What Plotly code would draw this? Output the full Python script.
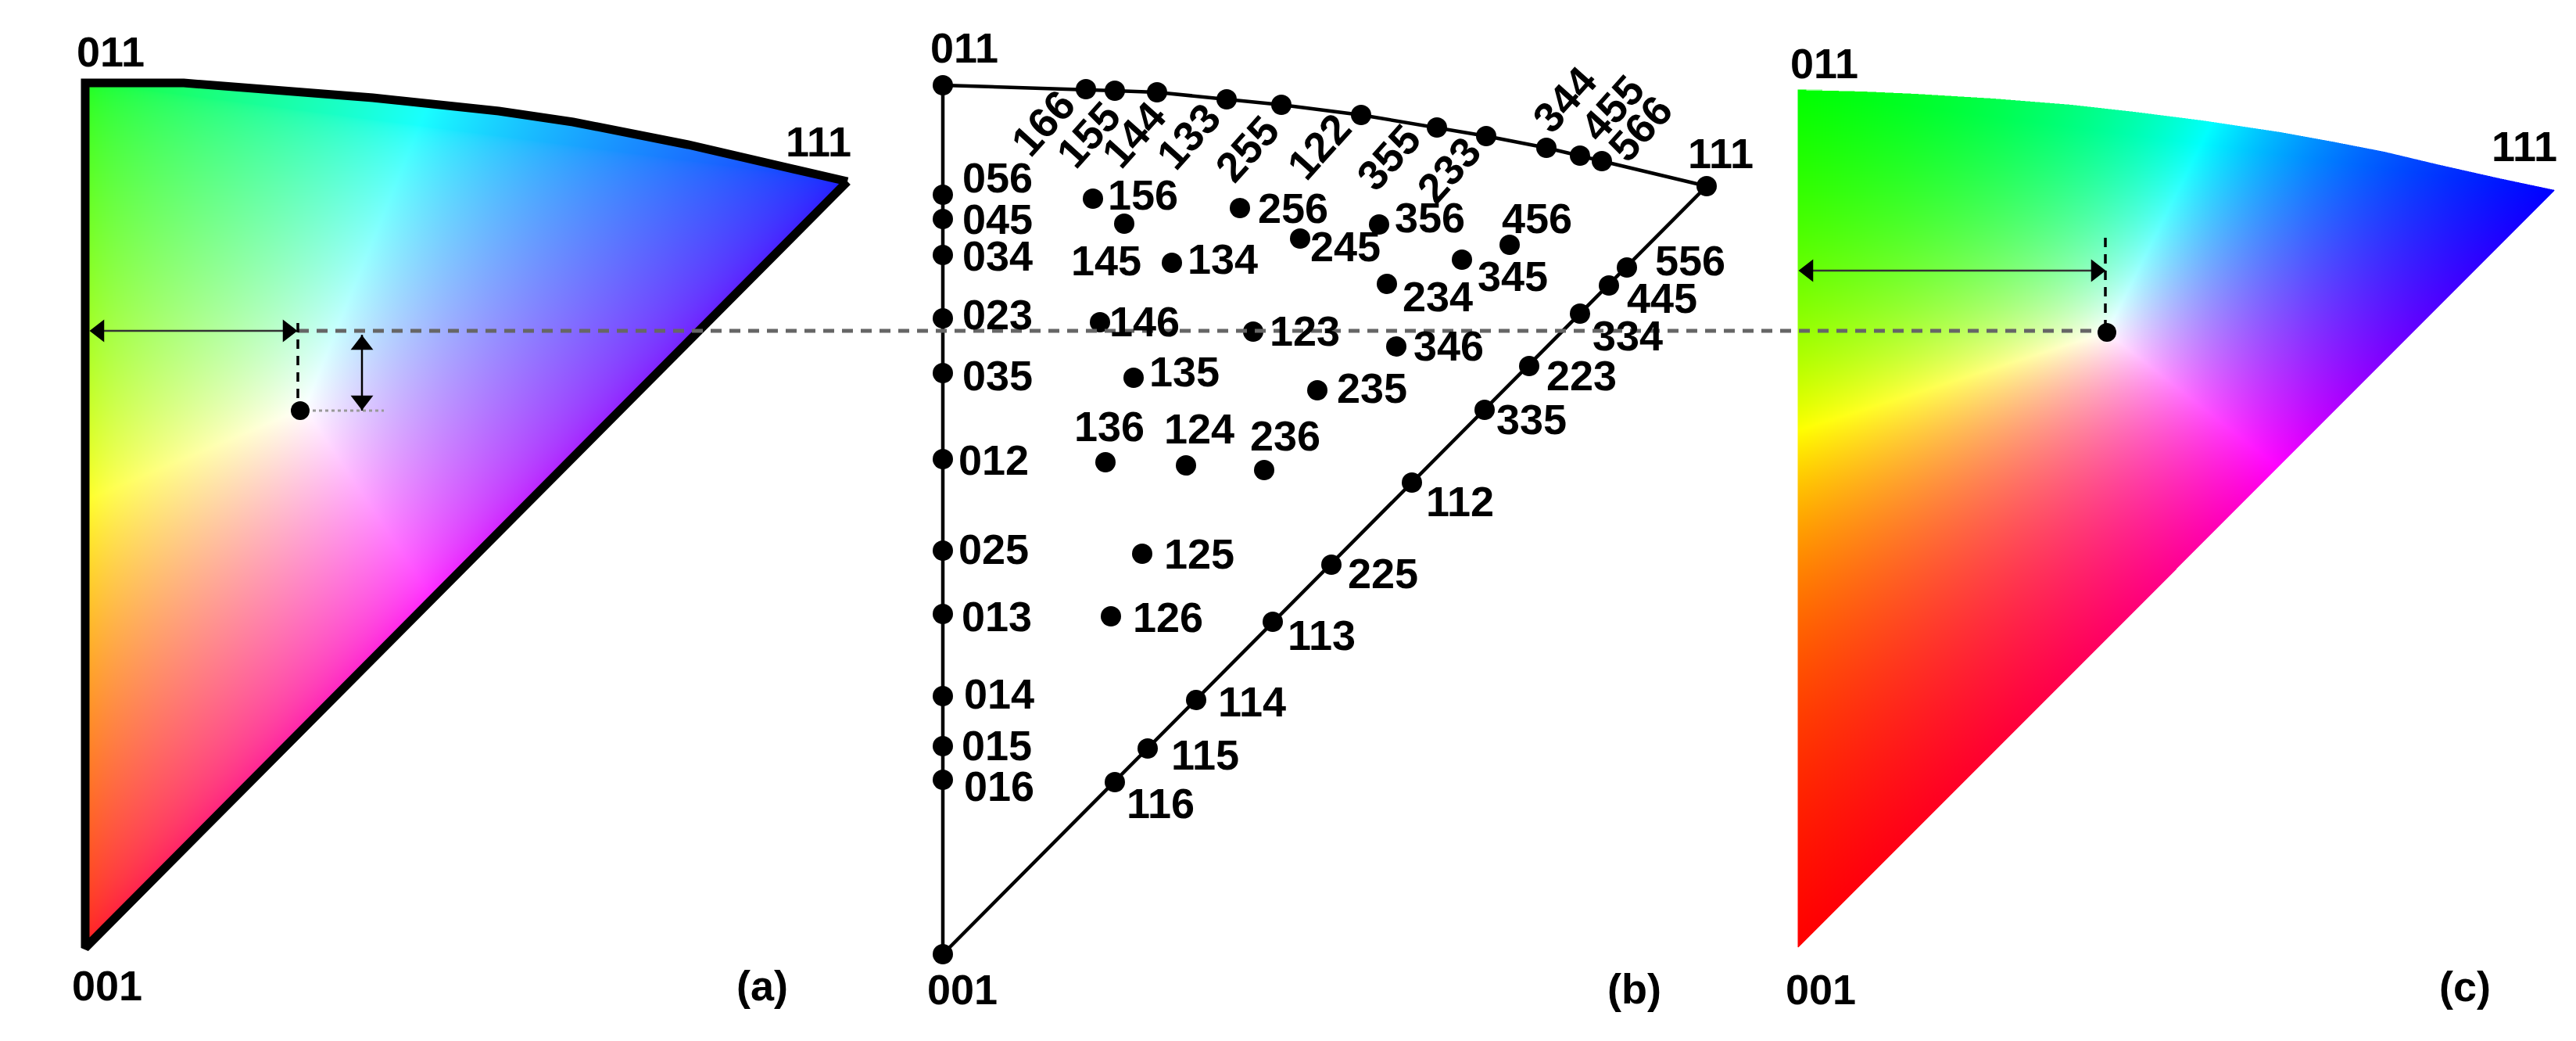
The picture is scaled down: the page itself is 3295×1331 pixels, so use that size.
import base64
import struct
import zlib

import numpy as np
import plotly.graph_objects as go

# everything is in picture pixels, y going down
W, H = 3295, 1331

# panel (a) and (c) colour keys: corners 001, 011, 111 and the white point
a_corner_x = [109, 109, 1084]
a_corner_y = [1212, 105, 232]
a_white = (390, 522)
a_floor = 25  # (a) is a washed out copy, its pure colours stop around 25
a_gamma = 0.6
a_arc_x = [109, 170, 235, 337, 477, 638, 733, 880, 1084]
a_arc_y = [106, 106, 106, 114, 125, 142, 156, 185, 232]

c_corner_x = [2300, 2300, 3268]
c_corner_y = [1212, 115, 243]
c_white = (2695, 425)
c_floor = 0
c_gamma = 1.0
c_arc_x = [2300, 2383, 2450, 2550, 2650, 2730, 2817, 2917, 2983, 3050, 3117, 3197, 3268]
c_arc_y = [115, 117, 120, 126, 134, 143, 154, 169, 181, 194, 210, 228, 243]

# panel (b) poles
edge_left = ["011", "056", "045", "034", "023", "035", "012", "025", "013", "014", "015", "016", "001"]
edge_left_y = [109, 249, 280, 326, 407, 477, 587, 704, 785, 890, 954, 997, 1220]
edge_left_x = [1206] * len(edge_left)
edge_left_label_x = [1233, 1276, 1276, 1276, 1276, 1276, 1271, 1271, 1275, 1278, 1275, 1278, 1231]
edge_left_label_y = [61, 227, 280, 327, 402, 480, 588, 702, 788, 887, 953, 1005, 1265]

arc_poles = ["166", "155", "144", "133", "255", "122", "355", "233", "344", "455", "566"]
arc_x = [1389, 1426, 1480, 1569, 1639, 1741, 1838, 1901, 1978, 2021, 2049]
arc_y = [114, 116, 118, 127, 134, 147, 163, 174, 189, 199, 206]
arc_label_x = [1334, 1392, 1450, 1520, 1595, 1687, 1776, 1853, 2001, 2062, 2098]
arc_label_y = [157, 172, 172, 174, 190, 187, 201, 217, 127, 138, 164]

edge_right = ["111", "556", "445", "334", "223", "335", "112", "225", "113", "114", "115", "116"]
edge_right_x = [2183, 2081, 2058, 2021, 1956, 1899, 1806, 1703, 1628, 1530, 1468, 1426]
edge_right_y = [238, 342, 365, 401, 468, 524, 617, 722, 795, 895, 957, 1000]
edge_right_label_x = [2201, 2162, 2126, 2082, 2023, 1959, 1867, 1769, 1690, 1601, 1541, 1484]
edge_right_label_y = [196, 333, 381, 429, 480, 536, 641, 733, 812, 897, 965, 1027]

inner = ["156", "145", "134", "256", "245", "356", "456", "345", "234", "146", "123", "346",
         "135", "235", "136", "124", "236", "125", "126"]
inner_x = [1398, 1438, 1499, 1586, 1663, 1764, 1931, 1870, 1774, 1407, 1603, 1786,
           1450, 1685, 1414, 1517, 1617, 1461, 1421]
inner_y = [254, 286, 336, 266, 305, 287, 313, 332, 363, 412, 424, 443,
           483, 499, 591, 595, 601, 708, 788]
inner_label_x = [1462, 1415, 1564, 1654, 1721, 1829, 1966, 1935, 1839, 1464, 1669, 1853,
                 1515, 1755, 1419, 1534, 1644, 1534, 1494]
inner_label_y = [249, 333, 331, 266, 315, 278, 279, 353, 379, 411, 423, 442,
                 475, 496, 545, 548, 557, 708, 789]

# corner and panel letters of (a) and (c)
plain_text = ["011", "111", "001", "(a)", "(b)", "011", "111", "001", "(c)"]
plain_x = [141, 1047, 137, 975, 2090, 2333, 3229, 2329, 3153]
plain_y = [66, 181, 1260, 1260, 1264, 81, 187, 1265, 1261]


def colour_key(white, cx, cy, floor, gamma, arcx, arcy):
    # the key itself: barycentric weights of the corners scaled so the white
    # point has equal channels, then normalised to the largest channel
    left, right = min(cx), max(cx)
    top, bottom = int(min(arcy)), int(max(cy))
    n_x, n_y = right - left, bottom - top
    xs = left + (np.arange(n_x * 2) + 0.5) / 2
    ys = top + (np.arange(n_y * 2) + 0.5) / 2
    px, py = np.meshgrid(xs, ys)

    def weights(x, y):
        b = (x - cx[0]) / (cx[2] - cx[0])
        g = (cy[0] + b * (cy[2] - cy[0]) - y) / (cy[0] - cy[1])
        return 1 - g - b, g, b

    ref = weights(*white)
    chan = np.dstack([np.clip(w / r, 0, None) for w, r in zip(weights(px, py), ref)])
    chan = (chan / chan.max(axis=2, keepdims=True)) ** gamma
    img = floor + (255 - floor) * chan

    # keep what lies under the arc and above the straight 001-111 edge
    hyp = cy[0] + (px - cx[0]) * (cy[2] - cy[0]) / (cx[2] - cx[0])
    alpha = ((py >= np.interp(px, arcx, arcy)) & (py <= hyp)).astype(float)
    rgba = np.dstack([img * alpha[..., None], alpha * 255])
    rgba = rgba.reshape(n_y, 2, n_x, 2, 4).mean(axis=(1, 3))
    cover = np.maximum(rgba[..., 3:] / 255, 1e-6)
    rgba[..., :3] = rgba[..., :3] / cover
    raw = np.clip(rgba, 0, 255).astype(np.uint8)
    rows = b"".join(b"\x00" + raw[r].tobytes() for r in range(n_y))

    def chunk(tag, data):
        return struct.pack(">I", len(data)) + tag + data + struct.pack(">I", zlib.crc32(tag + data))

    png = (b"\x89PNG\r\n\x1a\n" + chunk(b"IHDR", struct.pack(">IIBBBBB", n_x, n_y, 8, 6, 0, 0, 0))
           + chunk(b"IDAT", zlib.compress(rows, 6)) + chunk(b"IEND", b""))
    source = "data:image/png;base64," + base64.b64encode(png).decode()
    return go.Image(source=source, x0=left, y0=top, dx=1, dy=1, hoverinfo="skip")


def line(xs, ys, width, color="black", dash=None):
    return go.Scatter(x=xs, y=ys, mode="lines", line=dict(color=color, width=width, dash=dash),
                      hoverinfo="skip", showlegend=False)


def dots(xs, ys, size=26):
    return go.Scatter(x=xs, y=ys, mode="markers", marker=dict(color="black", size=size),
                      hoverinfo="skip", showlegend=False)


def head(x, y, symbol, size=25):
    return go.Scatter(x=[x], y=[y], mode="markers", marker=dict(color="black", size=size, symbol=symbol),
                      hoverinfo="skip", showlegend=False)


fig = go.Figure()
fig.add_trace(colour_key(a_white, a_corner_x, a_corner_y, a_floor, a_gamma, a_arc_x, a_arc_y))
fig.add_trace(colour_key(c_white, c_corner_x, c_corner_y, c_floor, c_gamma, c_arc_x, c_arc_y))

# (a) black frame
fig.add_trace(line(a_arc_x[::-1] + [109, 1084], a_arc_y[::-1] + [1212, 232], 11))

# (b) triangle
fig.add_trace(line([2183, 1206, 1206], [238, 1220, 109], 4.5))
fig.add_trace(line([1206] + arc_x + [2183], [109] + arc_y + [238], 4.5))
fig.add_trace(dots(edge_left_x, edge_left_y))
fig.add_trace(dots(arc_x, arc_y))
fig.add_trace(dots(edge_right_x, edge_right_y))
fig.add_trace(dots(inner_x, inner_y))

# guide lines and arrows of (a)
fig.add_trace(line([381, 2677], [423, 423], 5, "#666666", "14px,10px"))
fig.add_trace(line([381, 381], [413, 513], 3.5, "black", "12px,9px"))
fig.add_trace(line([400, 491], [525, 525], 3, "#999999", "4px,4px"))
fig.add_trace(line([117, 378], [423, 423], 2.5, "#333333"))
fig.add_trace(line([463, 463], [428, 525], 2.5, "black"))
fig.add_trace(head(127, 423, "triangle-left"))
fig.add_trace(head(368, 423, "triangle-right"))
fig.add_trace(head(463, 441, "triangle-up"))
fig.add_trace(head(463, 512, "triangle-down"))
fig.add_trace(dots([384], [525], 24))

# guide lines and arrows of (c)
fig.add_trace(line([2693, 2693], [304, 415], 3.5, "black", "12px,9px"))
fig.add_trace(line([2303, 2691], [346, 346], 2.5, "#333333"))
fig.add_trace(head(2313, 346, "triangle-left"))
fig.add_trace(head(2681, 346, "triangle-right"))
fig.add_trace(dots([2695], [425], 24))


def label(text, x, y, angle=0):
    fig.add_annotation(text="<b>" + text + "</b>", x=x, y=y, xref="x", yref="y", showarrow=False,
                       xanchor="center", yanchor="middle", textangle=angle,
                       font=dict(family="Liberation Sans", size=54, color="black"))


for names, xs, ys in [(edge_left, edge_left_label_x, edge_left_label_y),
                      (edge_right, edge_right_label_x, edge_right_label_y),
                      (inner, inner_label_x, inner_label_y),
                      (plain_text, plain_x, plain_y)]:
    for name, x, y in zip(names, xs, ys):
        label(name, x, y)
for name, x, y in zip(arc_poles, arc_label_x, arc_label_y):
    label(name, x, y, -48)

fig.update_layout(width=W, height=H, margin=dict(l=0, r=0, t=0, b=0), showlegend=False,
                  paper_bgcolor="white", plot_bgcolor="white")
fig.update_xaxes(range=[0, W], visible=False, constrain="domain")
fig.update_yaxes(range=[H, 0], visible=False, scaleanchor="x", constrain="domain")
fig.write_html("out.html", config={"displayModeBar": False},
               post_script="document.body.style.margin = '0';")
